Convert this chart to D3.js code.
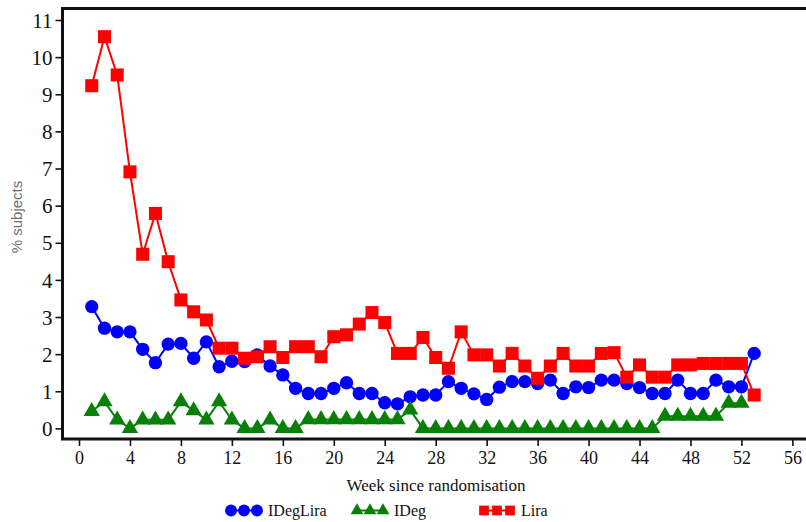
<!DOCTYPE html>
<html>
<head>
<meta charset="utf-8">
<script src="https://cdn.jsdelivr.net/npm/d3@7"></script>
<style>
  body { margin: 0; background: #fff; }
</style>
</head>
<body>
<div id="chart"></div>
<script>
// values, % subjects per week
var weeks = [1, 2, 3, 4, 5, 6, 7, 8, 9, 10, 11, 12, 13, 14, 15, 16, 17, 18, 19, 20,
             21, 22, 23, 24, 25, 26, 27, 28, 29, 30, 31, 32, 33, 34, 35, 36, 37, 38, 39, 40,
             41, 42, 43, 44, 45, 46, 47, 48, 49, 50, 51, 52, 53];

var idegLira = [3.28, 2.70, 2.60, 2.60, 2.13, 1.77, 2.27, 2.29, 1.89, 2.33,
                1.66, 1.81, 1.80, 1.98, 1.68, 1.44, 1.08, 0.94, 0.94, 1.08,
                1.23, 0.94, 0.94, 0.69, 0.66, 0.85, 0.90, 0.90, 1.26, 1.08,
                0.93, 0.78, 1.11, 1.26, 1.26, 1.21, 1.30, 0.94, 1.12, 1.10,
                1.30, 1.30, 1.21, 1.10, 0.94, 0.94, 1.30, 0.94, 0.94, 1.30,
                1.12, 1.12, 2.02];

var ideg = [0.46, 0.72, 0.23, 0.00, 0.23, 0.23, 0.23, 0.72, 0.48, 0.23,
            0.72, 0.23, 0.00, 0.00, 0.23, 0.00, 0.00, 0.24, 0.24, 0.24,
            0.24, 0.24, 0.24, 0.24, 0.24, 0.50, 0.00, 0.00, 0.00, 0.00,
            0.00, 0.00, 0.00, 0.00, 0.00, 0.00, 0.00, 0.00, 0.00, 0.00,
            0.00, 0.00, 0.00, 0.00, 0.00, 0.33, 0.33, 0.33, 0.33, 0.33,
            0.68, 0.68, null];

var lira = [9.23, 10.55, 9.52, 6.91, 4.69, 5.79, 4.49, 3.46, 3.14, 2.92,
            2.16, 2.16, 1.89, 1.93, 2.20, 1.91, 2.20, 2.20, 1.93, 2.47,
            2.52, 2.81, 3.12, 2.85, 2.02, 2.02, 2.45, 1.91, 1.62, 2.60,
            1.98, 1.98, 1.68, 2.02, 1.68, 1.35, 1.68, 2.02, 1.68, 1.68,
            2.02, 2.04, 1.38, 1.71, 1.38, 1.38, 1.71, 1.71, 1.75, 1.75,
            1.75, 1.75, 0.90];

var xTicks = [0, 4, 8, 12, 16, 20, 24, 28, 32, 36, 40, 44, 48, 52, 56];
var yTicks = [0, 1, 2, 3, 4, 5, 6, 7, 8, 9, 10, 11];

var seriesNames = ["IDegLira", "IDeg", "Lira"];
var seriesValues = [idegLira, ideg, lira];
var seriesColors = ["#0000ff", "#088008", "#ff0000"];
var seriesShapes = [d3.symbolCircle, d3.symbolTriangle, d3.symbolSquare];

//////////////////////////////////////////////////////////////////////////////

var serif = "'Liberation Serif', 'Times New Roman', serif";
var width = 806, height = 522;
var frameLeft = 62.5, frameTop = 8.5, frameBottom = 439;

var xScale = d3.scaleLinear().domain([0, 56]).range([79, 792.4]);
var yScale = d3.scaleLinear().domain([0, 11]).range([428.4, 20]);

var svg = d3.select("#chart").append("svg")
    .attr("width", width)
    .attr("height", height);

// frame: left, top and bottom lines (right side runs off the picture)
svg.append("path")
    .attr("d", "M" + width + "," + frameTop + "H" + frameLeft + "V" + frameBottom + "H" + width)
    .attr("fill", "none")
    .attr("stroke", "#111")
    .attr("stroke-width", 3);

var yAxis = svg.append("g")
    .attr("transform", "translate(" + (frameLeft - 1) + ",0)")
    .call(d3.axisLeft(yScale).tickValues(yTicks).tickSize(6).tickPadding(3));
yAxis.select(".domain").remove();
yAxis.selectAll("line").attr("stroke", "#111").attr("stroke-width", 1.6);
yAxis.selectAll("text")
    .attr("fill", "#111").attr("dy", "0.34em")
    .style("font-family", serif).style("font-size", "21px");

var xAxis = svg.append("g")
    .attr("transform", "translate(0," + (frameBottom + 1) + ")")
    .call(d3.axisBottom(xScale).tickValues(xTicks).tickSize(6).tickPadding(5));
xAxis.select(".domain").remove();
xAxis.selectAll("line").attr("stroke", "#111").attr("stroke-width", 1.6);
xAxis.selectAll("text")
    .attr("fill", "#111")
    .style("font-family", serif).style("font-size", "18px");

svg.append("text")
    .attr("x", 436).attr("y", 491)
    .attr("text-anchor", "middle")
    .style("font-family", serif)
    .style("font-size", "17px")
    .attr("fill", "#111")
    .text("Week since randomisation");

svg.append("text")
    .attr("transform", "translate(22,217) rotate(-90)")
    .attr("text-anchor", "middle")
    .style("font-family", "'Liberation Sans', Arial, sans-serif")
    .style("font-size", "15px")
    .attr("fill", "#6e6e6e")
    .text("% subjects");

// series
var symbolSizes = [140, 115, 170];

seriesValues.forEach(function(vals, i) {
    var pts = weeks.map(function(w, j) { return { w: w, v: vals[j] }; })
        .filter(function(d) { return d.v != null; });

    var line = d3.line()
        .x(function(d) { return xScale(d.w); })
        .y(function(d) { return yScale(d.v); });

    var g = svg.append("g");
    g.append("path")
        .datum(pts)
        .attr("d", line)
        .attr("fill", "none")
        .attr("stroke", seriesColors[i])
        .attr("stroke-width", 2);

    g.selectAll("path.mark")
        .data(pts)
        .enter()
        .append("path")
        .attr("class", "mark")
        .attr("transform", function(d) {
            return "translate(" + xScale(d.w) + "," + yScale(d.v) + ")";
        })
        .attr("d", d3.symbol().type(seriesShapes[i]).size(symbolSizes[i]))
        .attr("fill", seriesColors[i]);
});

// legend
var legendX = [225, 351, 478];
var legendSize = [110, 70, 95];
var legendY = 510.5;

seriesNames.forEach(function(name, i) {
    var g = svg.append("g").attr("transform", "translate(" + legendX[i] + "," + legendY + ")");
    g.append("line")
        .attr("x1", 5).attr("x2", 33)
        .attr("stroke", seriesColors[i])
        .attr("stroke-width", 2);
    g.selectAll("path")
        .data([6, 19, 32])
        .enter()
        .append("path")
        .attr("transform", function(d) { return "translate(" + d + ",0)"; })
        .attr("d", d3.symbol().type(seriesShapes[i]).size(legendSize[i]))
        .attr("fill", seriesColors[i]);
    g.append("text")
        .attr("x", 43).attr("y", 5)
        .style("font-family", serif)
        .style("font-size", "16px")
        .attr("fill", "#111")
        .text(name);
});
</script>
</body>
</html>
